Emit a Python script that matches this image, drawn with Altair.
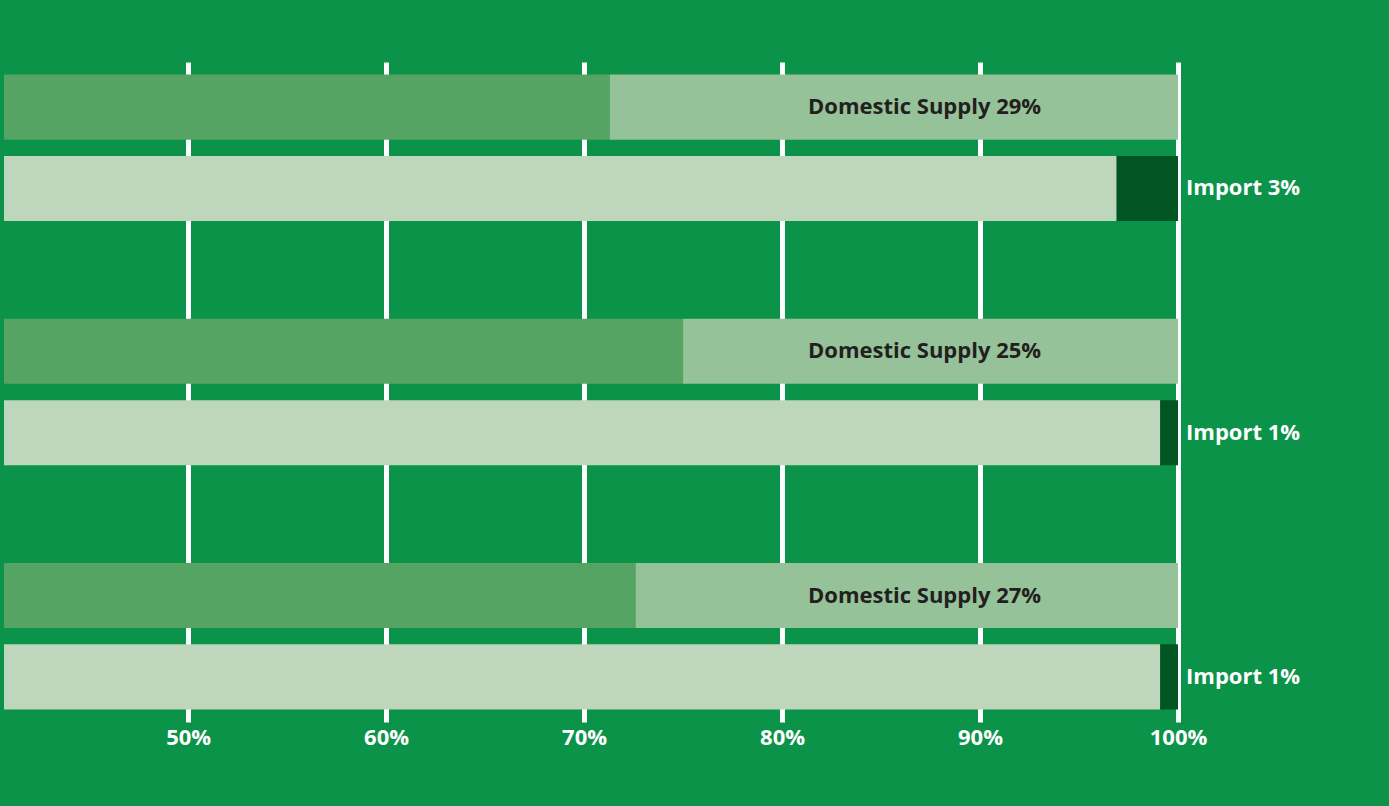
import altair as alt
import pandas as pd

# ---- data ----
groups = ["Group 1", "Group 2", "Group 3"]
domestic_share = [28.7, 25.0, 27.4]   # % "Domestic Supply"
import_share = [3.1, 0.9, 0.9]        # % "Import"
tick_values = [50, 60, 70, 80, 90, 100]

# ---- build tables ----
rows = []
seg_rows = []
dom_labels = []
imp_labels = []
for i, g in enumerate(groups):
    r_dom = f"{g}|dom"
    r_imp = f"{g}|imp"
    rows += [r_dom, r_imp]
    if i < len(groups) - 1:
        rows.append(f"{g}|gap")
    d = domestic_share[i]
    m = import_share[i]
    seg_rows.append({"row": r_dom, "start": 0, "end": 100 - d, "seg": "Own"})
    seg_rows.append({"row": r_dom, "start": 100 - d, "end": 100, "seg": "Domestic Supply"})
    seg_rows.append({"row": r_imp, "start": 0, "end": 100 - m, "seg": "Domestic"})
    seg_rows.append({"row": r_imp, "start": 100 - m, "end": 100, "seg": "Import"})
    dom_labels.append({"row": r_dom, "label": f"Domestic Supply {round(d)}%"})
    imp_labels.append({"row": r_imp, "label": f"Import {round(m)}%"})

seg_df = pd.DataFrame(seg_rows)
dom_df = pd.DataFrame(dom_labels)
imp_df = pd.DataFrame(imp_labels)

BG = "#0B9349"
FONT = "Open Sans"

x_scale = alt.Scale(domain=[40.7, 100], nice=False, zero=False)
y_enc = alt.Y("row:N", scale=alt.Scale(domain=rows, paddingInner=0.2, paddingOuter=0.154), axis=None)

bars = alt.Chart(seg_df).mark_bar(clip=True).encode(
    x=alt.X(
        "start:Q",
        scale=x_scale,
        axis=alt.Axis(
            values=tick_values,
            labelExpr="datum.value + '%'",
            grid=True,
            gridColor="white",
            gridWidth=5,
            gridOpacity=1,
            domain=False,
            ticks=False,
            labelColor="white",
            labelFont=FONT,
            labelFontWeight="bold",
            labelFontSize=22,
            labelPadding=5,
            labelFlush=False,
            labelOverlap=False,
            title=None,
        ),
    ),
    x2="end:Q",
    y=y_enc,
    color=alt.Color(
        "seg:N",
        scale=alt.Scale(
            domain=["Own", "Domestic Supply", "Domestic", "Import"],
            range=["#55A463", "#95C298", "#BED6BC", "#005522"],
        ),
        legend=None,
    ),
)

dom_text = alt.Chart(dom_df).mark_text(
    font=FONT, fontWeight="bold", fontSize=22, color="#231F20",
    align="center", baseline="middle",
).encode(x=alt.datum(87.2), y=y_enc, text="label:N")

imp_text = alt.Chart(imp_df).mark_text(
    font=FONT, fontWeight="bold", fontSize=22, color="white",
    align="left", baseline="middle", dx=8,
).encode(x=alt.datum(100), y=y_enc, text="label:N")

chart = (
    alt.layer(bars, dom_text, imp_text)
    .properties(
        width=1174,
        height=660,
        background=BG,
        padding={"left": 4, "top": 62, "right": 211, "bottom": 84},
        autosize=alt.AutoSizeParams(type="none"),
    )
    .configure_view(stroke=None)
)

chart.save("out.html", embed_options={"renderer": "svg", "actions": False})
